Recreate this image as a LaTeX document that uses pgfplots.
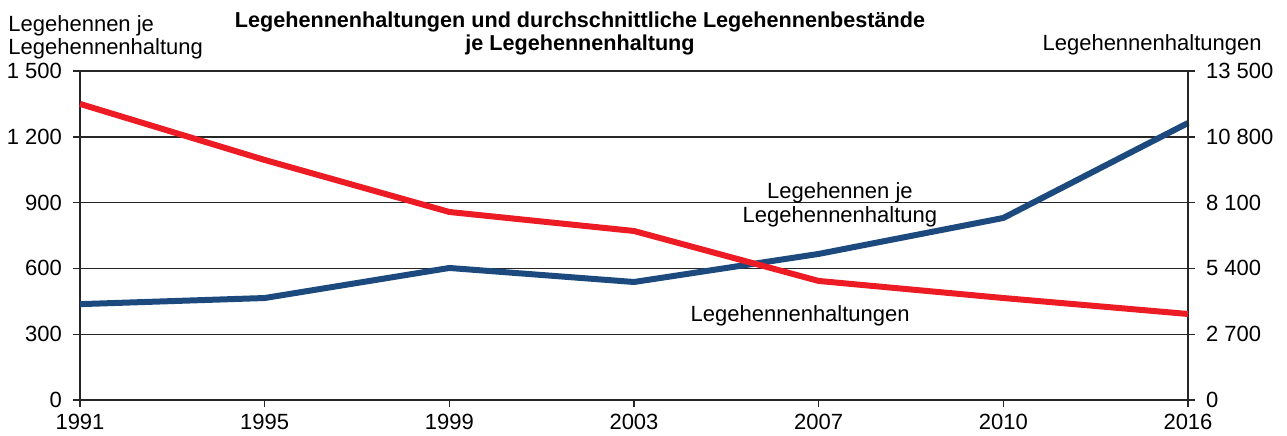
\documentclass[border=0pt]{standalone}
\usepackage{pgfplots}
\pgfplotsset{compat=1.18}
\usepackage{fontspec}
\setmainfont{Liberation Sans}
\definecolor{hblue}{RGB}{28,74,126}
\definecolor{hred}{RGB}{237,28,36}
\newcommand{\lbl}{\fontsize{11}{13}\selectfont}
\newcommand{\ttl}{\fontsize{10.8}{13}\selectfont\bfseries}

\begin{document}
\begin{tikzpicture}
\pgfplotsset{
  every axis/.append style={
    width=554pt, height=164.5pt, scale only axis,
    xmin=0, xmax=6, ymin=0,
    tick align=outside, major tick length=3.5pt,
    tick style={black!85, line width=0.7pt},
    axis line style={black!85, line width=0.7pt},
    tick label style={font=\lbl},
    scaled ticks=false,
    /pgf/number format/assume math mode=true,
    /pgf/number format/1000 sep={\ },
    clip=false,
  },
}
\begin{axis}[
  axis x line*=bottom, axis y line*=left,
  ymax=1500, ytick={0,300,...,1500},
  yticklabel style={xshift=-2pt},
  xtick={0,...,6},
  xticklabels={1991,1995,1999,2003,2007,2010,2016},
  ymajorgrids, grid style={black!85, line width=0.7pt},
]
\addplot[hblue, line width=3pt, line join=round] coordinates {
  (0,437) (1,465) (2,602) (3,538) (4,666) (5,830) (6,1263)};
\coordinate (O) at (rel axis cs:0,0);
\coordinate (T) at (rel axis cs:1,1);
\node[font=\lbl, anchor=base] at (axis cs:4.115,920) {Legehennen je};
\node[font=\lbl, anchor=base] at (axis cs:4.115,810) {Legehennenhaltung};
\node[font=\lbl, anchor=base] at (axis cs:3.9,356) {Legehennenhaltungen};
\end{axis}
\begin{axis}[
  axis x line=none, axis y line*=right,
  ymax=13500, ytick={0,2700,...,13500},
  yticklabel style={xshift=2pt},
]
\addplot[hred, line width=3pt, line join=round] coordinates {
  (0,12150) (1,9850) (2,7715) (3,6935) (4,4885) (5,4185) (6,3530)};
\end{axis}
\node[font=\lbl, anchor=base west, inner sep=0pt] at ([xshift=-36pt,yshift=19.7pt]O |- T) {Legehennen je};
\node[font=\lbl, anchor=base west, inner sep=0pt] at ([xshift=-36pt,yshift=8.5pt]O |- T) {Legehennenhaltung};
\node[font=\lbl, anchor=base east, inner sep=0pt] at ([xshift=37pt,yshift=10.5pt]T) {Legehennenhaltungen};
\node[font=\ttl, anchor=base, inner sep=0pt] at ([xshift=250pt,yshift=22pt]O |- T) {Legehennenhaltungen und durchschnittliche Legehennenbestände};
\node[font=\ttl, anchor=base, inner sep=0pt] at ([xshift=250pt,yshift=10.5pt]O |- T) {je Legehennenhaltung};
\pgfresetboundingbox
\path ([xshift=-40pt,yshift=-17.5pt]O) rectangle ([xshift=603.5pt,yshift=200pt]O);
\end{tikzpicture}
\end{document}
